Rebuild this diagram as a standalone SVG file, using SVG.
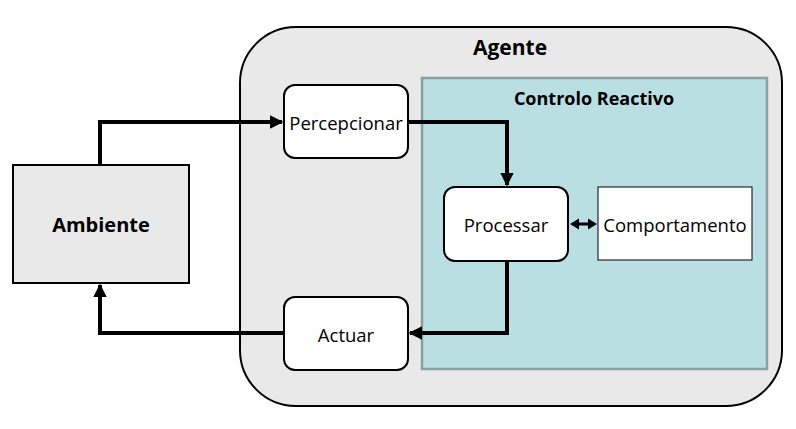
<svg xmlns="http://www.w3.org/2000/svg" width="796" height="429" viewBox="0 0 796 429">
<defs>
<style>
text{font-family:"Open Sans","Liberation Sans",sans-serif;fill:#000;text-anchor:middle;dominant-baseline:central}
.b{font-weight:bold}
.l{font-size:18.5px}
.box{fill:#fff;stroke:#000;stroke-width:2}
.wire{fill:none;stroke:#000;stroke-width:4}
</style>
<marker id="ah" viewBox="0 0 10 10" refX="9" refY="5" markerWidth="3.4" markerHeight="3.4" orient="auto-start-reverse" markerUnits="strokeWidth">
<path d="M0,0 L10,5 L0,10 z" fill="#000"/>
</marker>
<marker id="ah2" viewBox="0 0 10 10" refX="9" refY="5" markerWidth="3.2" markerHeight="3.6" orient="auto-start-reverse" markerUnits="strokeWidth">
<path d="M0,0 L10,5 L0,10 z" fill="#000"/>
</marker>
</defs>
<rect x="0" y="0" width="796" height="429" fill="#fff"/>
<g id="agente">
<rect x="240" y="27" width="542" height="379" rx="56" ry="56" fill="#e9e9e9" stroke="#000" stroke-width="2"/>
<text x="510" y="47" class="b" font-size="21">Agente</text>
</g>
<g id="controlo">
<rect x="422" y="78" width="345" height="291" fill="#b9dfe3" stroke="#8a9fa1" stroke-width="2.5"/>
<text x="594" y="98" class="b" font-size="18">Controlo Reactivo</text>
</g>
<g id="ambiente">
<rect x="13" y="165" width="176" height="118" fill="#e9e9e9" stroke="#000" stroke-width="2"/>
<text x="101" y="224" class="b" font-size="20">Ambiente</text>
</g>
<g id="percepcionar">
<rect class="box" x="284" y="85" width="124" height="73" rx="11"/>
<text x="346" y="122" class="l">Percepcionar</text>
</g>
<g id="processar">
<rect class="box" x="444" y="187" width="124" height="74" rx="11"/>
<text x="506" y="224" class="l">Processar</text>
</g>
<g id="comportamento">
<rect x="598" y="187" width="154" height="73" fill="#fff" stroke="#000" stroke-width="1"/>
<text x="675" y="224" class="l">Comportamento</text>
</g>
<g id="actuar">
<rect class="box" x="284" y="297" width="124" height="73" rx="11"/>
<text x="346" y="334" class="l">Actuar</text>
</g>
<g id="connectors">
<polyline class="wire" points="100,165 100,122 282,122" marker-end="url(#ah)"/>
<polyline class="wire" points="408,122 507,122 507,185" marker-end="url(#ah)"/>
<polyline class="wire" points="507,261 507,333 410,333" marker-end="url(#ah)"/>
<polyline class="wire" points="284,333 100,333 100,285" marker-end="url(#ah)"/>
<line x1="576" y1="224" x2="590" y2="224" stroke="#000" stroke-width="3"/>
<polygon points="570,224 579,218.5 579,229.5" fill="#000"/>
<polygon points="597,224 588,218.5 588,229.5" fill="#000"/>
</g>
</svg>
